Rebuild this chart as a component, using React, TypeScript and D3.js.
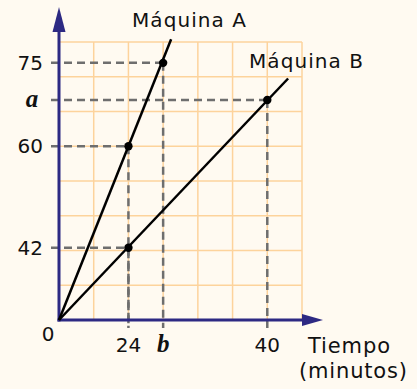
import React from 'react';
import * as d3 from 'd3';

// schematic chart: everything is in grid cells (7 columns x 8 rows)
const gridCols = 7;
const gridRows = 8;

const xTickLabels = ['24', 'b', '40'];
const xTickCells = [2, 3, 6];

const yTickLabels = ['42', '60', 'a', '75'];
const yTickCells = [2.08, 5, 6.33, 7.4];

// machine lines, [cell x, cell y]
const machineA = [[0, 0], [3.23, 8.08]];
const machineB = [[0, 0], [6.6, 6.95]];

// marked points and their guide lines
const pointsA = [[2, 5], [3, 7.4]];
const pointsB = [[2, 2.08], [6, 6.33]];

const seriesNames = ['Máquina A', 'Máquina B'];

const W = 417;
const H = 389;
const bg = '#fffaf1';
const gridColor = '#fdd39c';
const axisColor = '#2d2983';
const guideColor = '#6e6e6e';
const sans = '"DejaVu Sans", sans-serif';
const serif = '"Liberation Serif", "Times New Roman", serif';

export default function App() {
  const x = d3.scaleLinear().domain([0, gridCols]).range([59, 302]);
  const y = d3.scaleLinear().domain([0, gridRows]).range([320, 42]);

  const line = d3.line<number[]>().x(d => x(d[0])).y(d => y(d[1]));

  const cols = d3.range(1, gridCols + 1);
  const rows = d3.range(1, gridRows + 1);
  const points = [...pointsA, ...pointsB];

  const isItalic = (s: string) => s === 'a' || s === 'b';

  return (
    <svg width={W} height={H} style={{ position: 'absolute', left: 0, top: 0, background: bg }}>
      <rect width={W} height={H} fill={bg} />

      {/* grid */}
      <g stroke={gridColor} strokeWidth={1.5}>
        {cols.map(c => <line key={'c' + c} x1={x(c)} x2={x(c)} y1={y(0)} y2={y(gridRows)} />)}
        {rows.map(r => <line key={'r' + r} x1={x(0)} x2={x(gridCols)} y1={y(r)} y2={y(r)} />)}
      </g>

      {/* dashed guides */}
      <g stroke={guideColor} strokeWidth={2.5} strokeDasharray="8,5" fill="none">
        {points.map((p, i) => (
          <g key={i}>
            <line x1={x(0) - 8} x2={x(p[0])} y1={y(p[1])} y2={y(p[1])} />
            <line x1={x(p[0])} x2={x(p[0])} y1={y(p[1])} y2={y(0) + 8} />
          </g>
        ))}
      </g>

      {/* axes */}
      <g stroke={axisColor} strokeWidth={3}>
        <line x1={x(0)} x2={x(0)} y1={y(0) + 1.5} y2={y(gridRows) - 12} />
        <line x1={x(0) - 1.5} x2={x(gridCols)} y1={y(0)} y2={y(0)} />
      </g>
      <path d={`M${x(0)},7 L${x(0) - 6.5},32 L${x(0) + 6.5},32 Z`} fill={axisColor} />
      <path d={`M323,${y(0)} L${x(gridCols)},${y(0) - 6} L${x(gridCols)},${y(0) + 6} Z`} fill={axisColor} />

      {/* machine lines */}
      <path d={line(machineA) || ''} stroke="#000" strokeWidth={2.5} fill="none" />
      <path d={line(machineB) || ''} stroke="#000" strokeWidth={2.5} fill="none" />
      {points.map((p, i) => <circle key={i} cx={x(p[0])} cy={y(p[1])} r={4.2} fill="#000" />)}

      {/* tick labels */}
      {yTickLabels.map((t, i) => (
        <text key={t} x={isItalic(t) ? 32 : 43} y={y(yTickCells[i]) + 7} textAnchor={isItalic(t) ? 'middle' : 'end'}
          fontFamily={isItalic(t) ? serif : sans} fontStyle={isItalic(t) ? 'italic' : 'normal'}
          fontWeight={isItalic(t) ? 'bold' : 'normal'} fontSize={isItalic(t) ? 25 : 20} fill="#111">{t}</text>
      ))}
      {xTickLabels.map((t, i) => (
        <text key={t} x={x(xTickCells[i])} y={352} textAnchor="middle"
          fontFamily={isItalic(t) ? serif : sans} fontStyle={isItalic(t) ? 'italic' : 'normal'}
          fontWeight={isItalic(t) ? 'bold' : 'normal'} fontSize={isItalic(t) ? 25 : 20} fill="#111">{t}</text>
      ))}
      <text x={48} y={341} textAnchor="middle" fontFamily={sans} fontSize={20} fill="#111">0</text>

      {/* series names and axis title */}
      <text x={132} y={27} fontFamily={sans} fontSize={20} textLength={114} lengthAdjust="spacing" fill="#111">{seriesNames[0]}</text>
      <text x={249} y={68} fontFamily={sans} fontSize={20} textLength={114} lengthAdjust="spacing" fill="#111">{seriesNames[1]}</text>
      <text x={308} y={353} fontFamily={sans} fontSize={21} textLength={82} lengthAdjust="spacing" fill="#111">Tiempo</text>
      <text x={299} y={378} fontFamily={sans} fontSize={21} textLength={108} lengthAdjust="spacing" fill="#111">(minutos)</text>
    </svg>
  );
}
